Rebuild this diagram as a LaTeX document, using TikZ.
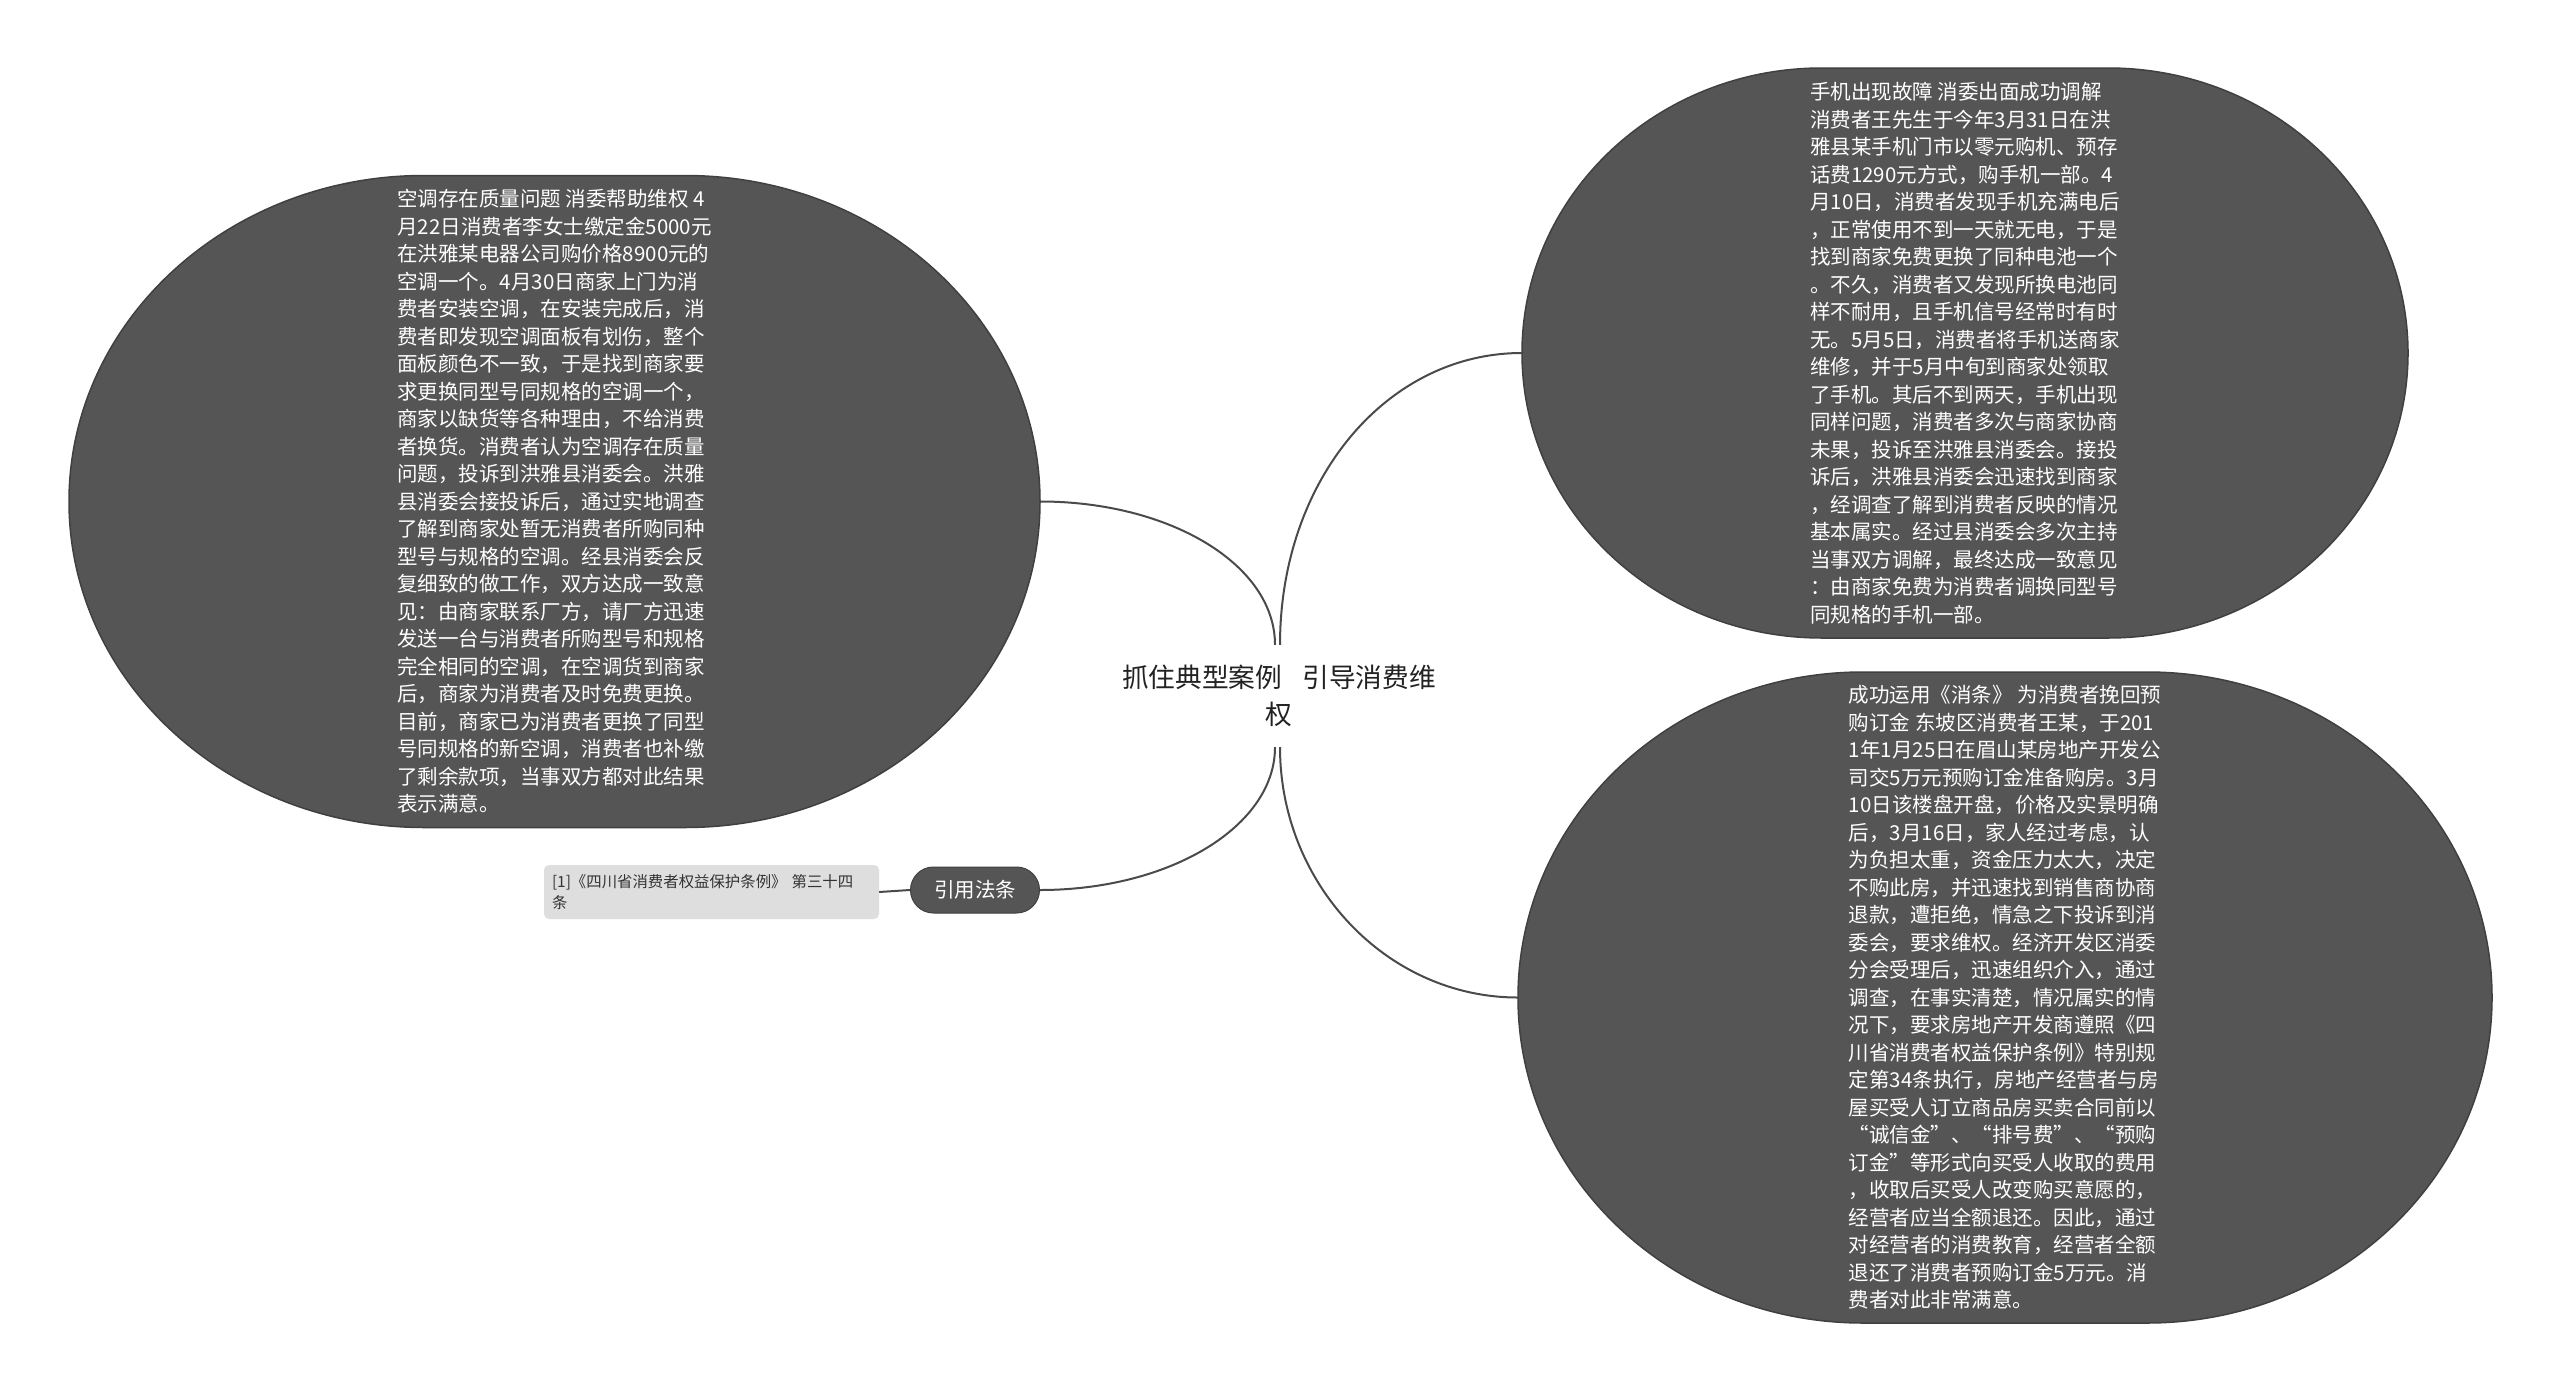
\documentclass[tikz,border=0pt]{standalone}
\usepackage{fontspec}
\setmainfont{Noto Sans CJK SC}
\definecolor{blobfill}{HTML}{555555}
\definecolor{blobline}{HTML}{404040}
\definecolor{connclr}{HTML}{4A4A4A}
\definecolor{reffill}{HTML}{DEDEDE}
\definecolor{reftext}{HTML}{333333}
\definecolor{toptext}{HTML}{222222}
\newcommand\blobshape[5]{%
  \filldraw[fill=blobfill,draw=blobline,line width=1.5pt]
    ({#1+#3/2-#5},{#2-#4/2}) arc[start angle=-90,end angle=90,x radius=#5,y radius=#4/2]
    -- ({#1-#3/2+#5},{#2+#4/2}) arc[start angle=90,end angle=270,x radius=#5,y radius=#4/2]
    -- cycle;}
\begin{document}
\begin{tikzpicture}[x=1pt,y=-1pt,
  blobtext/.style={inner sep=0pt,align=left,text=white,
    font=\fontsize{20.5pt}{27.5pt}\selectfont},
  toptitle/.style={inner sep=0pt,align=center,text=toptext,minimum width=330pt,minimum height=102pt,
    font=\fontsize{26.7pt}{37pt}\selectfont},
  pill/.style={fill=blobfill,draw=blobline,line width=1pt,rounded corners=23pt,
    minimum width=129pt,minimum height=46pt,inner sep=0pt,text=white,
    font=\fontsize{20.5pt}{24pt}\selectfont},
  refbox/.style={fill=reffill,rounded corners=5pt,minimum height=54pt,
    text width=319pt,inner xsep=8pt,inner ysep=0pt,align=left,text=reftext,
    font=\fontsize{15.4pt}{21pt}\selectfont},
  conn/.style={draw=connclr,line width=2pt}]
\useasboundingbox (0,0) rectangle (2560,1392);
\fill[white] (0,0) rectangle (2560,1392);

% shapes
\blobshape{554.5}{501.5}{971}{652}{355}
\blobshape{1965}{353}{886}{570}{300}
\blobshape{2005}{997.5}{974}{651}{345}

\node[blobtext,minimum width=971pt,minimum height=652pt] (caseA) at (554.5,501.5) {%
空调存在质量问题 消委帮助维权 4\\
月22日消费者李女士缴定金5000元\\
在洪雅某电器公司购价格8900元的\\
空调一个。4月30日商家上门为消\\
费者安装空调，在安装完成后，消\\
费者即发现空调面板有划伤，整个\\
面板颜色不一致，于是找到商家要\\
求更换同型号同规格的空调一个，\\
商家以缺货等各种理由，不给消费\\
者换货。消费者认为空调存在质量\\
问题，投诉到洪雅县消委会。洪雅\\
县消委会接投诉后，通过实地调查\\
了解到商家处暂无消费者所购同种\\
型号与规格的空调。经县消委会反\\
复细致的做工作，双方达成一致意\\
见：由商家联系厂方，请厂方迅速\\
发送一台与消费者所购型号和规格\\
完全相同的空调，在空调货到商家\\
后，商家为消费者及时免费更换。\\
目前，商家已为消费者更换了同型\\
号同规格的新空调，消费者也补缴\\
了剩余款项，当事双方都对此结果\\
表示满意。};

\node[blobtext,minimum width=886pt,minimum height=570pt] (caseB) at (1965,353) {%
手机出现故障 消委出面成功调解\\
消费者王先生于今年3月31日在洪\\
雅县某手机门市以零元购机、预存\\
话费1290元方式，购手机一部。4\\
月10日，消费者发现手机充满电后\\
，正常使用不到一天就无电，于是\\
找到商家免费更换了同种电池一个\\
。不久，消费者又发现所换电池同\\
样不耐用，且手机信号经常时有时\\
无。5月5日，消费者将手机送商家\\
维修，并于5月中旬到商家处领取\\
了手机。其后不到两天，手机出现\\
同样问题，消费者多次与商家协商\\
未果，投诉至洪雅县消委会。接投\\
诉后，洪雅县消委会迅速找到商家\\
，经调查了解到消费者反映的情况\\
基本属实。经过县消委会多次主持\\
当事双方调解，最终达成一致意见\\
：由商家免费为消费者调换同型号\\
同规格的手机一部。};

\node[blobtext,minimum width=974pt,minimum height=651pt] (caseC) at (2005,997.5) {%
成功运用《消条》 为消费者挽回预\\
购订金 东坡区消费者王某，于201\\
1年1月25日在眉山某房地产开发公\\
司交5万元预购订金准备购房。3月\\
10日该楼盘开盘，价格及实景明确\\
后，3月16日，家人经过考虑，认\\
为负担太重，资金压力太大，决定\\
不购此房，并迅速找到销售商协商\\
退款，遭拒绝，情急之下投诉到消\\
委会，要求维权。经济开发区消委\\
分会受理后，迅速组织介入，通过\\
调查，在事实清楚，情况属实的情\\
况下，要求房地产开发商遵照《四\\
川省消费者权益保护条例》特别规\\
定第34条执行，房地产经营者与房\\
屋买受人订立商品房买卖合同前以\\
“诚信金”、“排号费”、“预购\\
订金”等形式向买受人收取的费用\\
，收取后买受人改变购买意愿的，\\
经营者应当全额退还。因此，通过\\
对经营者的消费教育，经营者全额\\
退还了消费者预购订金5万元。消\\
费者对此非常满意。};

\node[toptitle] (root) at (1279,696) {抓住典型案例\hspace{0.75em}引导消费维\\权};

\node[pill] (cite) at (975,890) {引用法条};
\node[refbox] (ref) at (711.5,892) {[1]《四川省消费者权益保护条例》 第三十四\\条};

% connectors
\draw[conn] ([xshift=-4pt]root.north) .. controls +(0,-80) and +(130,0) .. (caseA.east);
\draw[conn] ([xshift=1pt]root.north) .. controls +(0,-165) and +(-135,0) .. (caseB.west);
\draw[conn] ([xshift=-4pt]root.south) .. controls +(0,79) and +(130,0) .. (cite.east);
\draw[conn] ([xshift=1pt]root.south) .. controls +(0,137) and +(-131,0) .. (caseC.west);
\draw[conn] (ref.east) -- (cite.west);
\end{tikzpicture}
\end{document}
